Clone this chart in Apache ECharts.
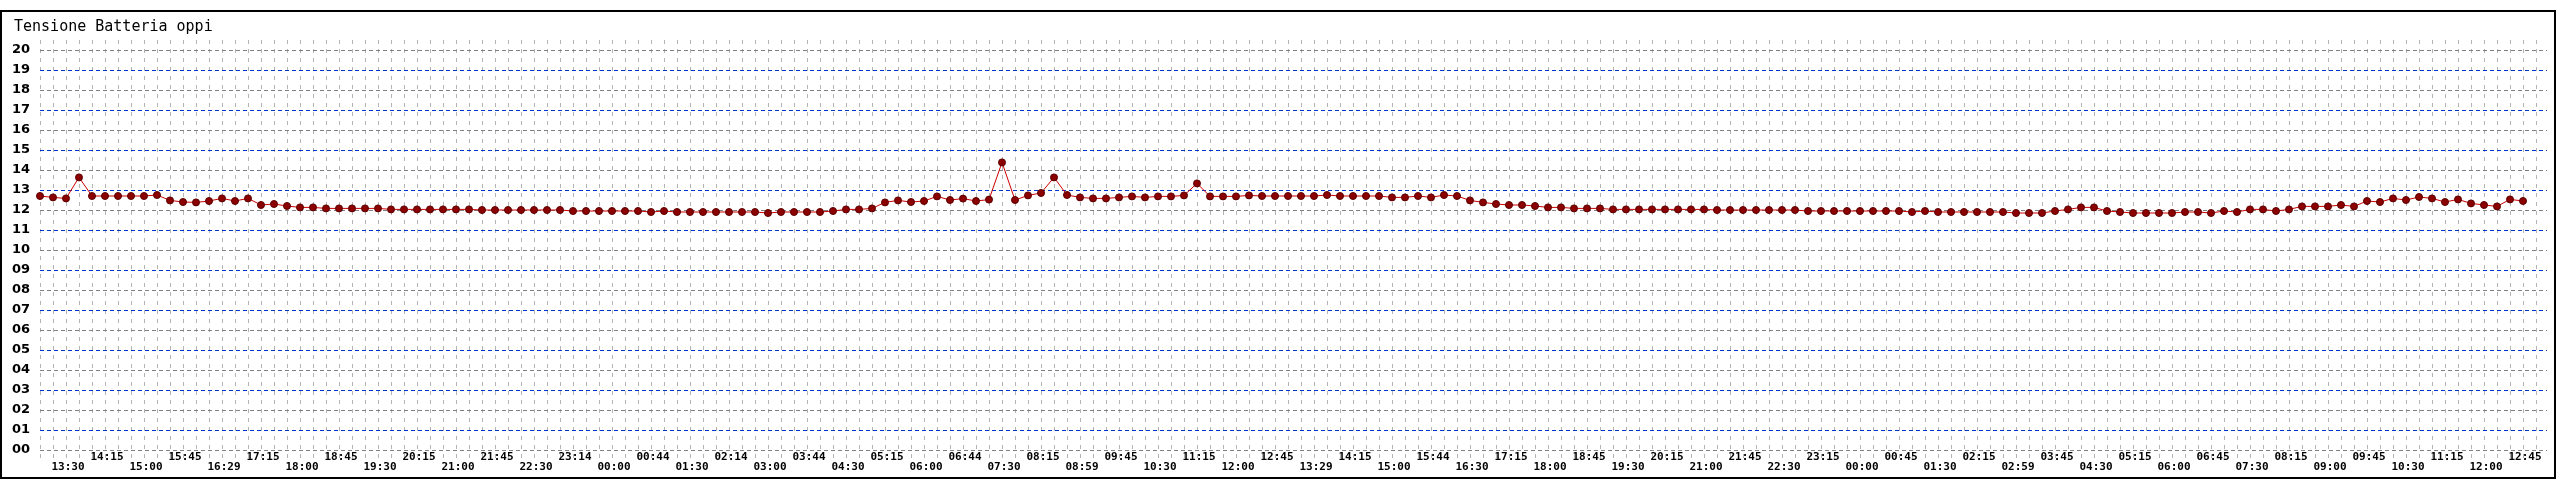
<!DOCTYPE html>
<html>
<head>
<meta charset="utf-8">
<script src="https://cdn.jsdelivr.net/npm/echarts@6/dist/echarts.min.js"></script>
<style>
html,body{margin:0;padding:0;background:#fff;}
#c{width:2560px;height:480px;}
</style>
</head>
<body>
<div id="c"></div>
<script>
const chartTitle = 'Tensione Batteria oppi';

// time labels shown under every third reading (first one is the 3rd reading)
const tickLabels = [
  '13:30','14:15','15:00','15:45','16:29','17:15','18:00','18:45','19:30','20:15',
  '21:00','21:45','22:30','23:14','00:00','00:44','01:30','02:14','03:00','03:44',
  '04:30','05:15','06:00','06:44','07:30','08:15','08:59','09:45','10:30','11:15',
  '12:00','12:45','13:29','14:15','15:00','15:44','16:30','17:15','18:00','18:45',
  '19:30','20:15','21:00','21:45','22:30','23:15','00:00','00:45','01:30','02:15',
  '02:59','03:45','04:30','05:15','06:00','06:45','07:30','08:15','09:00','09:45',
  '10:30','11:15','12:00','12:45'
];

// battery voltage readings (V), one every ~15 minutes
const voltage = [
  12.70,12.63,12.58,13.63,12.70,12.70,12.70,12.70,12.70,12.75,
  12.48,12.40,12.38,12.45,12.58,12.45,12.58,12.25,12.30,12.20,
  12.13,12.13,12.08,12.08,12.08,12.08,12.08,12.03,12.03,12.03,
  12.03,12.03,12.03,12.03,12.00,12.00,12.00,12.00,12.00,12.00,
  12.00,11.95,11.95,11.95,11.95,11.95,11.95,11.90,11.95,11.90,
  11.90,11.90,11.90,11.90,11.90,11.90,11.85,11.90,11.90,11.90,
  11.90,11.95,12.03,12.03,12.08,12.38,12.48,12.40,12.45,12.68,
  12.50,12.57,12.45,12.52,14.38,12.50,12.73,12.85,13.63,12.75,
  12.63,12.58,12.58,12.63,12.68,12.63,12.68,12.68,12.73,13.33,
  12.68,12.68,12.68,12.73,12.70,12.70,12.70,12.70,12.70,12.75,
  12.70,12.70,12.70,12.70,12.63,12.63,12.70,12.63,12.75,12.70,
  12.48,12.38,12.30,12.25,12.25,12.20,12.13,12.13,12.08,12.08,
  12.08,12.03,12.03,12.03,12.03,12.03,12.03,12.03,12.03,12.00,
  12.00,12.00,12.00,12.00,12.00,12.00,11.95,11.95,11.95,11.95,
  11.95,11.95,11.95,11.95,11.90,11.95,11.90,11.90,11.90,11.90,
  11.90,11.90,11.85,11.85,11.85,11.95,12.03,12.13,12.13,11.95,
  11.90,11.85,11.85,11.85,11.85,11.90,11.90,11.85,11.95,11.90,
  12.03,12.03,11.95,12.03,12.18,12.18,12.18,12.25,12.18,12.45,
  12.40,12.58,12.50,12.65,12.58,12.40,12.53,12.33,12.25,12.18,
  12.53,12.45
];

// y-axis range (volts)
const yMin = 0, yMax = 20, yStep = 1;

// category slots: one per reading plus one trailing empty slot
const categories = [];
for (let i = 0; i <= voltage.length; i++) categories.push('p' + i);

function tickText(index) {
  if (index % 3 !== 2) return '';
  const k = (index - 2) / 3;
  return tickLabels[k] || '';
}

const xLabelStyle = {
  fontFamily: 'DejaVu Sans Mono',
  fontWeight: 'bold',
  fontSize: 11,
  color: '#000',
  padding: [0, 0, 0, 4]
};

const chart = echarts.init(document.getElementById('c'), null, {renderer: 'canvas'});
chart.setOption({
  animation: false,
  backgroundColor: '#fff',
  title: {
    text: chartTitle,
    left: 9,
    top: 15,
    textStyle: {fontFamily: 'DejaVu Sans Mono', fontSize: 15, fontWeight: 'normal', color: '#000'}
  },
  graphic: [{
    type: 'rect',
    shape: {x: 1, y: 11, width: 2554, height: 467},
    style: {fill: 'none', stroke: '#000', lineWidth: 2},
    silent: true,
    z: 100
  }],
  grid: [
    {left: 40, right: 13, top: 50, bottom: 30, outerBoundsMode: 'none', containLabel: false},
    {left: 40, right: 24, top: 40, bottom: 20, outerBoundsMode: 'none', containLabel: false}
  ],
  xAxis: [
    {
      type: 'category', gridIndex: 1, data: categories, boundaryGap: false, position: 'bottom',
      axisLine: {show: false}, axisTick: {show: false},
      splitLine: {show: true, interval: 0, lineStyle: {color: '#b4b4b4', width: 1, type: [4, 5]}},
      axisLabel: Object.assign({
        interval: function (i) { return i % 6 === 5; },
        margin: -8,
        formatter: function (v, i) { return tickText(i); }
      }, xLabelStyle),
      z: 1
    },
    {
      type: 'category', gridIndex: 1, data: categories, boundaryGap: false, position: 'bottom',
      axisLine: {show: false}, axisTick: {show: false}, splitLine: {show: false},
      axisLabel: Object.assign({
        interval: function (i) { return i % 6 === 2; },
        margin: 2,
        formatter: function (v, i) { return tickText(i); }
      }, xLabelStyle)
    },
    {
      type: 'value', gridIndex: 0, show: false, min: 0, max: 1,
      splitLine: {show: false}
    }
  ],
  yAxis: [
    {
      type: 'value', gridIndex: 0, min: yMin, max: yMax, interval: yStep,
      axisLine: {show: false}, axisTick: {show: false},
      axisLabel: {
        margin: 10,
        fontFamily: 'DejaVu Sans',
        fontWeight: 'bold',
        fontSize: 13,
        color: '#000',
        formatter: function (v) { return String(v).padStart(2, '0'); }
      },
      splitLine: {show: true, lineStyle: {color: ['#808080', '#0033cc'], width: 1, type: [4, 3]}},
      z: 2
    },
    {
      type: 'value', gridIndex: 1, show: false, min: yMin - 0.5, max: yMax + 0.5,
      splitLine: {show: false}
    }
  ],
  series: [{
    type: 'line',
    xAxisIndex: 0,
    yAxisIndex: 1,
    data: voltage,
    symbol: 'circle',
    symbolSize: 7,
    showAllSymbol: true,
    lineStyle: {color: '#cc0000', width: 1},
    itemStyle: {color: '#8b0000', borderColor: '#5a0000', borderWidth: 1},
    z: 5
  }]
});
</script>
</body>
</html>
